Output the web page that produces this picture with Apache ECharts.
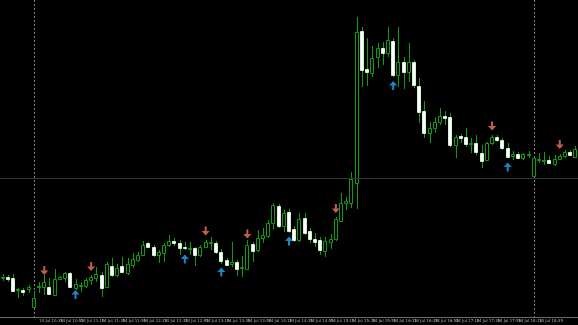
<!DOCTYPE html>
<html>
<head>
<meta charset="utf-8">
<script src="https://cdn.jsdelivr.net/npm/echarts@6/dist/echarts.min.js"></script>
<style>
  html, body { margin: 0; padding: 0; background: #000; }
  #chart { width: 578px; height: 325px; }
</style>
</head>
<body>
<div id="chart"></div>
<script>
// candle values (price units are arbitrary)
const opens = [47,48,47,35,35,36,18,38,38,38,30,46,47,52,37,39,39,45,47,50,38,59,50,59,52,60,65,70,
  82,78,70,72,80,84,82,78,76.5,77,70,78,82,82,73,65,61,63,57,56,81,75,87,89,102,119,
  99,113,96,85,107,94,86,85,74,83,86,104,122,122,142,294,256,252,268,277,272,284,250,263,253,263,239,214,
  192,197,203,209,208,180,189,188,181,182,172,165,182,188,185,177,169,171,167,170,149,165.5,164.5,165,161,166,169,173,168];
const closes = [48,46,34,36,33,38,27,39,43,31,46,48,52,38,41,40,45,48,51,37,61,50,57,53,61,66,70,80,
  78,70,73,80,84,82,77,77,77.5,70,78,83,83,73,64,60,63,56,58,80,74,87,90,102,120,99,
  112,94,85,106,92,86,83,75,84,86,106,122,124,146,293,255,253,267,277,272,285,250,263,253,263,240,213,192,
  197,203,209,207,180,188,187,181,182,173,164,182,188,185,177,168,171,167,171,171,167,166.5,165.5,162,166,169,173,170,176];
const lows = [44,43,33,27,29,32,17,32,30,30,29,45,43,37,35,33,37,40,43,28,37,48,48,52,50,57,63,69,
  77,68,62,63,78,79,70,75,70,59,68,77,75,71,61,59,58,49,48,55,63,73,82,87,96,97,
  93,92,83,83,90,82,78,70,68,76,84,103,115,117,116,238,239,248,257,260,268,248,238,236,243,237,202,187,
  182,192,200,200,178,167,182,178,172,170,157,164,180,183,175,167,165,166,165,167,148,162,160,161,159,165,167,169,167];
const highs = [51,50,51,37,37,40,34,43,50,47,56,49,53,53,46,43,47,50,58,53,63,67,61,68,67,72,73,84,
  83,80,75,82,90,87,85,83,83,78,80,85,88,84,76,67,83,65,69,85,83,95,97,105,122,121,
  115,116,99,112,112,97,92,88,88,91,108,132,128,153,308,298,287,279,282,283,298,287,298,268,282,265,247,224,
  203,208,217,214,212,190,191,197,187,190,180,183,190,190,187,182,174,173,172,174,168,172,173,169,170,171,175,175,179];

// signal arrows: [candle index, level]
const sellArrows = [[8,54.5],[17,58.5],[39,94],[47,91],[64,116.5],[94,199],[107,180.5]];
const buyArrows = [[14,30.5],[35,66],[42,53],[55,84],[75,239.5],[97,158]];

// one label every 4th bar, starting at bar 3
const tickLabels = ['14 Jul 10:15','14 Jul 10:35','14 Jul 10:55','14 Jul 11:15','14 Jul 11:35','14 Jul 11:55',
  '14 Jul 12:15','14 Jul 12:35','14 Jul 12:55','14 Jul 13:15','14 Jul 13:35','14 Jul 13:55','14 Jul 14:15',
  '14 Jul 14:35','14 Jul 14:55','14 Jul 15:15','14 Jul 15:35','14 Jul 15:55','14 Jul 16:15','14 Jul 16:35',
  '14 Jul 16:55','14 Jul 17:15','14 Jul 17:35','14 Jul 17:55','14 Jul 18:15','14 Jul 18:35','14 Jul 18:55'];

const separators = [6, 102];
const levelLine = 147;

const green = '#129a12';

function renderCandle(params, api) {
  const i = api.value(0);
  const o = api.value(1), c = api.value(2);
  const pO = api.coord([i, o]);
  const pC = api.coord([i, c]);
  const pL = api.coord([i, api.value(3)]);
  const pH = api.coord([i, api.value(4)]);
  const x = Math.round(pO[0]) + 0.5;
  const bull = c > o;
  const top = Math.round(Math.min(pO[1], pC[1])) + 0.5;
  const bot = Math.max(Math.round(Math.max(pO[1], pC[1])) + 0.5, top + 1);
  return {
    type: 'group',
    children: [
      { type: 'line', shape: { x1: x, y1: Math.round(pH[1]), x2: x, y2: Math.round(pL[1]) },
        style: { stroke: green, lineWidth: 1 } },
      { type: 'rect', shape: { x: x - 2, y: top, width: 3, height: bot - top },
        style: bull ? { fill: '#000', stroke: green, lineWidth: 1 }
                    : { fill: '#fff', stroke: '#d4f0d4', lineWidth: 1 } }
    ]
  };
}

// dotted vertical separators through a bar
function renderSeparator(params, api) {
  const cs = params.coordSys;
  const x = Math.round(api.coord([api.value(0), 0])[0]) + 0.5;
  return {
    type: 'line',
    shape: { x1: x, y1: cs.y, x2: x, y2: cs.y + cs.height },
    style: { stroke: '#808080', lineWidth: 1, lineDash: [2, 2] }
  };
}

var chart = echarts.init(document.getElementById('chart'));
chart.setOption({
  animation: false,
  backgroundColor: '#000',
  grid: { left: -0.92, right: -2.28, top: 0, bottom: 8 },
  xAxis: {
    type: 'category',
    data: opens.map((_, i) => String(i)),
    boundaryGap: true,
    axisLine: { lineStyle: { color: '#6a6a6a', width: 1 } },
    axisTick: { show: false },
    splitLine: { show: false },
    axisLabel: {
      interval: (idx) => idx % 4 === 3,
      formatter: (v, idx) => tickLabels[(idx - 3) / 4] || '',
      align: 'left',
      color: '#b4b4b4',
      fontSize: 4,
      fontFamily: 'DejaVu Sans',
      margin: 2
    }
  },
  yAxis: {
    type: 'value',
    min: 8,
    max: 325,
    show: false,
    splitLine: { show: false }
  },
  series: [
    {
      type: 'line',
      data: [],
      z: 1,
      markLine: {
        silent: true,
        symbol: 'none',
        label: { show: false },
        data: [{ yAxis: levelLine, lineStyle: { color: '#333', type: 'solid', width: 1 } }]
      }
    },
    {
      type: 'custom',
      renderItem: renderSeparator,
      data: separators.map(s => [s]),
      encode: { x: 0 },
      silent: true,
      z: 1
    },
    {
      type: 'custom',
      renderItem: renderCandle,
      data: opens.map((o, i) => [i, o, closes[i], lows[i], highs[i]]),
      encode: { x: 0, y: [1, 2, 3, 4] },
      z: 3
    },
    {
      type: 'scatter',
      data: sellArrows,
      symbol: 'path://M3,0L5,0L5,4L8,4L4,8L0,4L3,4Z',
      symbolSize: [8, 9],
      itemStyle: { color: '#f5735c' },
      z: 4
    },
    {
      type: 'scatter',
      data: buyArrows,
      symbol: 'path://M4,0L8,4L5,4L5,8L3,8L3,4L0,4Z',
      symbolSize: [8, 9],
      itemStyle: { color: '#22a6fa' },
      z: 4
    }
  ]
});
</script>
</body>
</html>
